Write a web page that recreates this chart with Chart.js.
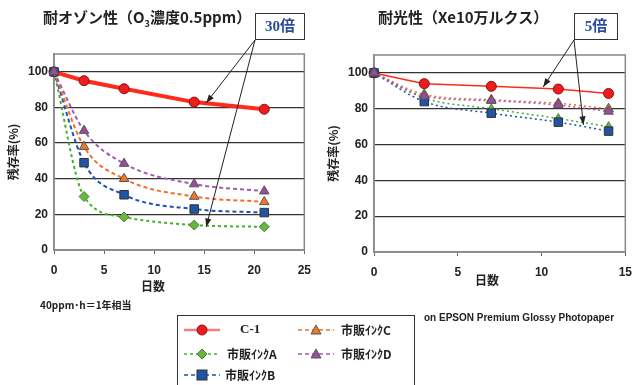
<!DOCTYPE html>
<html>
<head>
<meta charset="utf-8">
<script src="https://cdn.jsdelivr.net/npm/chart.js@4"></script>
<style>
  body { margin: 0; width: 641px; height: 385px; background: #fff; position: relative; overflow: hidden; font-family: 'Noto Sans CJK JP', sans-serif; }
  canvas { position: absolute; top: 0; }
  .title { position: absolute; font-weight: bold; font-size: 15px; color: #222; white-space: nowrap; }
  .title sub { font-size: 9px; }
  .tag { position: absolute; border: 1px solid #333; background: #fff; color: #2c4b9c; font-weight: bold; font-size: 15px; font-family: 'Liberation Serif', 'Noto Sans CJK JP', serif; text-align: center; box-sizing: border-box; line-height: 25px; }
  .note { position: absolute; font-weight: bold; font-size: 10px; color: #222; white-space: nowrap; }
  .xtitle { position: absolute; font-weight: bold; font-size: 12px; color: #222; }
  #legend { position: absolute; left: 177px; top: 315px; width: 238px; height: 90px; border: 1px solid #333; box-sizing: border-box; }
  .item { position: absolute; height: 16px; }
  .item svg { position: absolute; left: 0; top: 0; }
  .item span { position: absolute; top: -1px; font-weight: bold; font-size: 12px; color: #222; white-space: nowrap; }
</style>
</head>
<body>
<canvas id="o3" width="320" height="300" style="left:0"></canvas>
<canvas id="xe" width="321" height="295" style="left:320px"></canvas>

<div class="title" style="left:43px; top:6px">耐オゾン性（O<sub>3</sub>濃度0.5ppm）</div>
<div class="title" style="left:378px; top:6px">耐光性（Xe10万ルクス）</div>
<div class="tag" style="left:255px; top:13px; width:50px; height:27px">30倍</div>
<div class="tag" style="left:574px; top:13px; width:44px; height:27px">5倍</div>
<div class="xtitle" style="left:141px; top:277px">日数</div>
<div class="xtitle" style="left:475px; top:271px">日数</div>
<div class="note" style="left:40px; top:297px">40ppm･h＝1年相当</div>
<div class="note" style="left:424px; top:312px; font-family:'Liberation Sans', sans-serif">on EPSON Premium Glossy Photopaper</div>
<div id="legend"></div>

<script>
// ozone test (days, residual %)
const daysO3 = [0, 3, 7, 14, 21]
const o3C1 = [100, 95, 90.5, 83, 79]
const o3A = [100, 30, 18.5, 14, 13]
const o3B = [100, 49, 31, 23, 21]
const o3C = [100, 58, 40, 30, 27]
const o3D = [100, 67, 48.5, 37, 33]

// light test (days, residual %)
const daysXe = [0, 3, 7, 11, 14]
const xeC1 = [100, 94, 92.5, 91, 88.5]
const xeA = [100, 86, 80, 74.5, 70]
const xeB = [100, 84, 77.5, 72.5, 67.5]
const xeC = [100, 88, 85, 83, 80]
const xeD = [100, 87, 84.5, 82, 78.5]

const seriesNames = ['C-1', '市販ｲﾝｸA', '市販ｲﾝｸB', '市販ｲﾝｸC', '市販ｲﾝｸD']
const yTicks = [0, 20, 40, 60, 80, 100]

const styles = [
  { line: '#ff2a1a', fill: '#ee1c1c', edge: '#8a1010', shape: 'circle', r: 5, dash: [] },
  { line: '#44b02a', fill: '#66b83a', edge: '#557744', shape: 'rectRot', r: 5, dash: [3, 3] },
  { line: '#2050b0', fill: '#1f55a5', edge: '#333', shape: 'rect', r: 6, dash: [4, 3] },
  { line: '#f07028', fill: '#f07828', edge: '#555', shape: 'triangle', r: 5.5, dash: [4, 3] },
  { line: '#a458b0', fill: '#9a4c9e', edge: '#555', shape: 'triangle', r: 5.5, dash: [4, 3] }
]

const tickFont = { family: "'Liberation Sans', sans-serif", size: 12, weight: 'bold' }
const axisFont = { family: "'Noto Sans CJK JP', sans-serif", size: 12, weight: 'bold' }

function makeSets (days, lists, mainWidth, otherWidth, otherDash, greenShape) {
  return lists.map((vals, i) => {
    const s = styles[i]
    return {
      label: seriesNames[i],
      data: vals.map((v, k) => ({ x: days[k], y: v })),
      borderColor: s.line,
      borderWidth: i === 0 ? mainWidth : otherWidth,
      borderDash: i === 0 ? [] : (otherDash || s.dash),
      backgroundColor: s.fill,
      pointBackgroundColor: s.fill,
      pointBorderColor: s.edge,
      pointBorderWidth: 1,
      pointStyle: i === 1 && greenShape ? greenShape : s.shape,
      pointRadius: s.r,
      cubicInterpolationMode: i === 0 ? 'default' : 'monotone',
      tension: i === 0 ? 0 : 0.4,
      clip: false,
      order: 5 - i
    }
  })
}

// frame round the plot + pointer arrows from the tags
const framePlugin = {
  id: 'frame',
  beforeDatasetsDraw (chart) {
    const a = chart.chartArea
    const ctx = chart.ctx
    ctx.save()
    ctx.strokeStyle = '#888'
    ctx.lineWidth = 1.5
    ctx.strokeRect(a.left, a.top, a.right - a.left, a.bottom - a.top)
    ctx.restore()
  },
  afterDraw (chart, args, opts) {
    const ctx = chart.ctx
    const xs = chart.scales.x
    const ys = chart.scales.y
    ctx.save()
    ctx.strokeStyle = '#222'
    ctx.fillStyle = '#222'
    ctx.lineWidth = 1
    opts.tips.forEach(t => {
      const x1 = opts.from[0]
      const y1 = opts.from[1]
      const x2 = xs.getPixelForValue(t[0])
      const y2 = ys.getPixelForValue(t[1])
      const ang = Math.atan2(y2 - y1, x2 - x1)
      ctx.beginPath()
      ctx.moveTo(x1, y1)
      ctx.lineTo(x2, y2)
      ctx.stroke()
      ctx.beginPath()
      ctx.moveTo(x2, y2)
      ctx.lineTo(x2 - 9 * Math.cos(ang - 0.35), y2 - 9 * Math.sin(ang - 0.35))
      ctx.lineTo(x2 - 9 * Math.cos(ang + 0.35), y2 - 9 * Math.sin(ang + 0.35))
      ctx.closePath()
      ctx.fill()
    })
    ctx.restore()
  }
}

function makeChart (id, datasets, xMax, layout, xHeight, arrows) {
  return new Chart(document.getElementById(id), {
    type: 'line',
    data: { datasets },
    plugins: [framePlugin],
    options: {
      responsive: false,
      animation: false,
      layout: { padding: layout },
      plugins: {
        legend: { display: false },
        tooltip: { enabled: false },
        frame: arrows
      },
      scales: {
        x: {
          type: 'linear',
          min: 0,
          max: xMax,
          ticks: { stepSize: 5, font: tickFont, color: '#222', padding: 9 },
          grid: { drawOnChartArea: false, drawTicks: true, tickLength: 4, color: '#666' },
          border: { color: '#888', width: 1.5 },
          afterFit: s => { s.height = xHeight }
        },
        y: {
          min: 0,
          max: 110,
          afterBuildTicks: s => { s.ticks = yTicks.map(v => ({ value: v })) },
          ticks: { font: tickFont, color: '#222', padding: 6 },
          grid: { color: '#333', lineWidth: 1.2, drawTicks: false },
          border: { color: '#888', width: 1.5 },
          title: { display: true, text: '残存率(%)', font: axisFont, color: '#222', padding: { top: 6, bottom: 0 } },
          afterFit: s => { s.width = 54 }
        }
      }
    }
  })
}

makeChart('o3', makeSets(daysO3, [o3C1, o3A, o3B, o3C, o3D], 4, 2, null, null), 25,
  { left: 0, right: 14, top: 54, bottom: 0 }, 50,
  { from: [255, 40], tips: [[15.2, 82.5], [15.2, 13]] })

makeChart('xe', makeSets(daysXe, [xeC1, xeA, xeB, xeC, xeD], 1.5, 1.5, [2, 3], 'triangle'), 15,
  { left: 0, right: 10, top: 55, bottom: 0 }, 43,
  { from: [254, 40], tips: [[10.1, 92.2], [12.5, 71]] })

// legend box
const legendPos = [[4, 6], [4, 30], [4, 51], [118, 6], [118, 30]]
const textLeft = [58, 45, 43, 45, 45]
const legendEl = document.getElementById('legend')
styles.forEach((s, i) => {
  const item = document.createElement('div')
  item.className = 'item'
  item.style.left = legendPos[i][0] + 'px'
  item.style.top = legendPos[i][1] + 'px'
  const dash = s.dash.length ? `stroke-dasharray="${s.dash.join(',')}"` : ''
  const w = i === 0 ? 2.5 : 1.5
  let mark = ''
  const cx = 20
  const cy = 8
  if (s.shape === 'circle') mark = `<circle cx="${cx}" cy="${cy}" r="5" fill="${s.fill}" stroke="${s.edge}"/>`
  if (s.shape === 'rectRot') mark = `<polygon points="${cx},${cy - 5} ${cx + 5},${cy} ${cx},${cy + 5} ${cx - 5},${cy}" fill="${s.fill}" stroke="${s.edge}"/>`
  if (s.shape === 'rect') mark = `<rect x="${cx - 5}" y="${cy - 5}" width="10" height="10" fill="${s.fill}" stroke="${s.edge}"/>`
  if (s.shape === 'triangle') mark = `<polygon points="${cx},${cy - 5} ${cx + 5},${cy + 4} ${cx - 5},${cy + 4}" fill="${s.fill}" stroke="${s.edge}"/>`
  item.innerHTML = `<svg width="42" height="16"><line x1="2" y1="8" x2="38" y2="8" stroke="${i === 0 ? '#f08080' : s.line}" stroke-width="${w}" ${dash}/>${mark}</svg>` +
    `<span style="left:${textLeft[i]}px${i === 0 ? ";font-family:'Liberation Serif',serif;font-size:13px" : ''}">${seriesNames[i]}</span>`
  legendEl.appendChild(item)
})
</script>
</body>
</html>
